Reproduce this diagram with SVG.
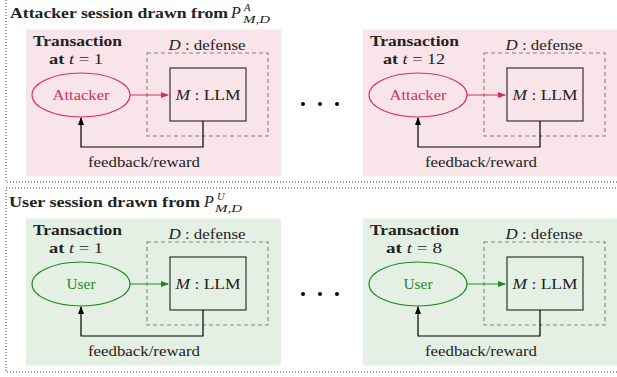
<svg xmlns="http://www.w3.org/2000/svg" width="617" height="377" viewBox="0 0 617 377">
<defs>
<style>
.session{fill:none;stroke:#444;stroke-width:1;stroke-dasharray:1 2}
.pinkbg{fill:#f9e4e9}
.greenbg{fill:#e5f0e4}
.def{fill:none;stroke:#808080;stroke-width:1.1;stroke-dasharray:4 3}
.llm{fill:none;stroke:#222;stroke-width:1.1}
.t{font-family:'Liberation Serif','Times New Roman','DejaVu Serif',serif;font-size:15px;fill:#222}
.b{font-weight:bold}
.i{font-style:italic}
.mid{text-anchor:middle}
.pinkE{fill:none;stroke:#d92e5a;stroke-width:1.1}
.greenE{fill:none;stroke:#1c8a1c;stroke-width:1.1}
.pinkT{fill:#d92e5a}
.greenT{fill:#1c8a1c}
.fb{fill:none;stroke:#000;stroke-width:1.2}
</style>
<marker id="ahPink" markerWidth="8" markerHeight="6" refX="7" refY="3" orient="auto" markerUnits="userSpaceOnUse"><path d="M0,0 L8,3 L0,6 Z" fill="#d92e5a"/></marker>
<marker id="ahGreen" markerWidth="8" markerHeight="6" refX="7" refY="3" orient="auto" markerUnits="userSpaceOnUse"><path d="M0,0 L8,3 L0,6 Z" fill="#1c8a1c"/></marker>
<marker id="ahBlack" markerWidth="8" markerHeight="6" refX="7" refY="3" orient="auto" markerUnits="userSpaceOnUse"><path d="M0,0 L8,3 L0,6 Z" fill="#000"/></marker>
</defs>

<g id="attacker-session">
<rect class="session" x="6" y="-5" width="620" height="187"/>
<text class="t b" x="10" y="17.5" textLength="218" lengthAdjust="spacingAndGlyphs">Attacker session drawn from</text>
<text class="t i" x="231" y="17.5" style="font-size:16px">P</text>
<text class="t i" x="244" y="11" style="font-size:10.5px">A</text>
<text class="t i" x="243" y="23" style="font-size:10px" textLength="27" lengthAdjust="spacingAndGlyphs">M,D</text>
</g>
<g id="user-session">
<rect class="session" x="6" y="188" width="620" height="184"/>
<text class="t b" x="9" y="206.5" textLength="191" lengthAdjust="spacingAndGlyphs">User session drawn from</text>
<text class="t i" x="204" y="206.5" style="font-size:16px">P</text>
<text class="t i" x="217" y="200" style="font-size:10.5px">U</text>
<text class="t i" x="215" y="212" style="font-size:10px" textLength="27" lengthAdjust="spacingAndGlyphs">M,D</text>
</g>

<g id="panel-a1">
<rect class="pinkbg" x="26" y="29.5" width="255" height="147"/>
<text class="t b mid" x="77.5" y="46" textLength="89" lengthAdjust="spacingAndGlyphs">Transaction</text>
<text class="t mid" x="76" y="64" textLength="54" lengthAdjust="spacingAndGlyphs"><tspan class="b">at </tspan><tspan class="i">t</tspan> = 1</text>
<g id="defense-a1"><rect class="def" x="147" y="53" width="121" height="83"/>
<text class="t mid" x="207" y="50" textLength="77" lengthAdjust="spacingAndGlyphs"><tspan class="i">D</tspan> : defense</text></g>
<g id="attacker-a1"><ellipse class="pinkE" cx="81" cy="95" rx="49" ry="22"/>
<text class="t mid pinkT" x="81" y="100" textLength="57" lengthAdjust="spacingAndGlyphs">Attacker</text></g>
<g id="llm-a1"><rect class="llm" x="170" y="68" width="76" height="53"/>
<text class="t mid" x="208" y="100" textLength="65" lengthAdjust="spacingAndGlyphs"><tspan class="i">M</tspan> : LLM</text></g>
<text class="t mid" x="144" y="167" textLength="112" lengthAdjust="spacingAndGlyphs">feedback/reward</text>
</g>

<g id="panel-a12" transform="translate(337,0)">
<rect class="pinkbg" x="26" y="29.5" width="260" height="147"/>
<text class="t b mid" x="77.5" y="46" textLength="89" lengthAdjust="spacingAndGlyphs">Transaction</text>
<text class="t mid" x="77" y="64" textLength="62" lengthAdjust="spacingAndGlyphs"><tspan class="b">at </tspan><tspan class="i">t</tspan> = 12</text>
<g id="defense-a12"><rect class="def" x="147" y="53" width="121" height="83"/>
<text class="t mid" x="207" y="50" textLength="77" lengthAdjust="spacingAndGlyphs"><tspan class="i">D</tspan> : defense</text></g>
<g id="attacker-a12"><ellipse class="pinkE" cx="81" cy="95" rx="49" ry="22"/>
<text class="t mid pinkT" x="81" y="100" textLength="57" lengthAdjust="spacingAndGlyphs">Attacker</text></g>
<g id="llm-a12"><rect class="llm" x="170" y="68" width="76" height="53"/>
<text class="t mid" x="208" y="100" textLength="65" lengthAdjust="spacingAndGlyphs"><tspan class="i">M</tspan> : LLM</text></g>
<text class="t mid" x="144" y="167" textLength="112" lengthAdjust="spacingAndGlyphs">feedback/reward</text>
</g>

<g id="panel-u1" transform="translate(0,189)">
<rect class="greenbg" x="26" y="29.5" width="255" height="147"/>
<text class="t b mid" x="77.5" y="46" textLength="89" lengthAdjust="spacingAndGlyphs">Transaction</text>
<text class="t mid" x="76" y="64" textLength="54" lengthAdjust="spacingAndGlyphs"><tspan class="b">at </tspan><tspan class="i">t</tspan> = 1</text>
<g id="defense-u1"><rect class="def" x="147" y="53" width="121" height="83"/>
<text class="t mid" x="207" y="50" textLength="77" lengthAdjust="spacingAndGlyphs"><tspan class="i">D</tspan> : defense</text></g>
<g id="user-u1"><ellipse class="greenE" cx="81" cy="95" rx="49" ry="22"/>
<text class="t mid greenT" x="81" y="100" textLength="29" lengthAdjust="spacingAndGlyphs">User</text></g>
<g id="llm-u1"><rect class="llm" x="170" y="68" width="76" height="53"/>
<text class="t mid" x="208" y="100" textLength="65" lengthAdjust="spacingAndGlyphs"><tspan class="i">M</tspan> : LLM</text></g>
<text class="t mid" x="144" y="167" textLength="112" lengthAdjust="spacingAndGlyphs">feedback/reward</text>
</g>

<g id="panel-u8" transform="translate(337,189)">
<rect class="greenbg" x="26" y="29.5" width="260" height="147"/>
<text class="t b mid" x="77.5" y="46" textLength="89" lengthAdjust="spacingAndGlyphs">Transaction</text>
<text class="t mid" x="77" y="64" textLength="56" lengthAdjust="spacingAndGlyphs"><tspan class="b">at </tspan><tspan class="i">t</tspan> = 8</text>
<g id="defense-u8"><rect class="def" x="147" y="53" width="121" height="83"/>
<text class="t mid" x="207" y="50" textLength="77" lengthAdjust="spacingAndGlyphs"><tspan class="i">D</tspan> : defense</text></g>
<g id="user-u8"><ellipse class="greenE" cx="81" cy="95" rx="49" ry="22"/>
<text class="t mid greenT" x="81" y="100" textLength="29" lengthAdjust="spacingAndGlyphs">User</text></g>
<g id="llm-u8"><rect class="llm" x="170" y="68" width="76" height="53"/>
<text class="t mid" x="208" y="100" textLength="65" lengthAdjust="spacingAndGlyphs"><tspan class="i">M</tspan> : LLM</text></g>
<text class="t mid" x="144" y="167" textLength="112" lengthAdjust="spacingAndGlyphs">feedback/reward</text>
</g>

<g id="ellipsis-dots" fill="#000">
<circle cx="303" cy="104" r="2"/><circle cx="320" cy="104" r="2"/><circle cx="337" cy="104" r="2"/>
<circle cx="303" cy="294" r="2"/><circle cx="320" cy="294" r="2"/><circle cx="337" cy="294" r="2"/>
</g>

<g id="connectors">
<line x1="130" y1="95" x2="168" y2="95" stroke="#d92e5a" stroke-width="1.2" marker-end="url(#ahPink)"/>
<path class="fb" d="M203,121 V147 H81 V118" marker-end="url(#ahBlack)"/>
<line x1="467" y1="95" x2="505" y2="95" stroke="#d92e5a" stroke-width="1.2" marker-end="url(#ahPink)"/>
<path class="fb" d="M540,121 V147 H418 V118" marker-end="url(#ahBlack)"/>
<line x1="130" y1="284" x2="168" y2="284" stroke="#1c8a1c" stroke-width="1.2" marker-end="url(#ahGreen)"/>
<path class="fb" d="M203,310 V336 H81 V307" marker-end="url(#ahBlack)"/>
<line x1="467" y1="284" x2="505" y2="284" stroke="#1c8a1c" stroke-width="1.2" marker-end="url(#ahGreen)"/>
<path class="fb" d="M540,310 V336 H418 V307" marker-end="url(#ahBlack)"/>
</g>
</svg>
